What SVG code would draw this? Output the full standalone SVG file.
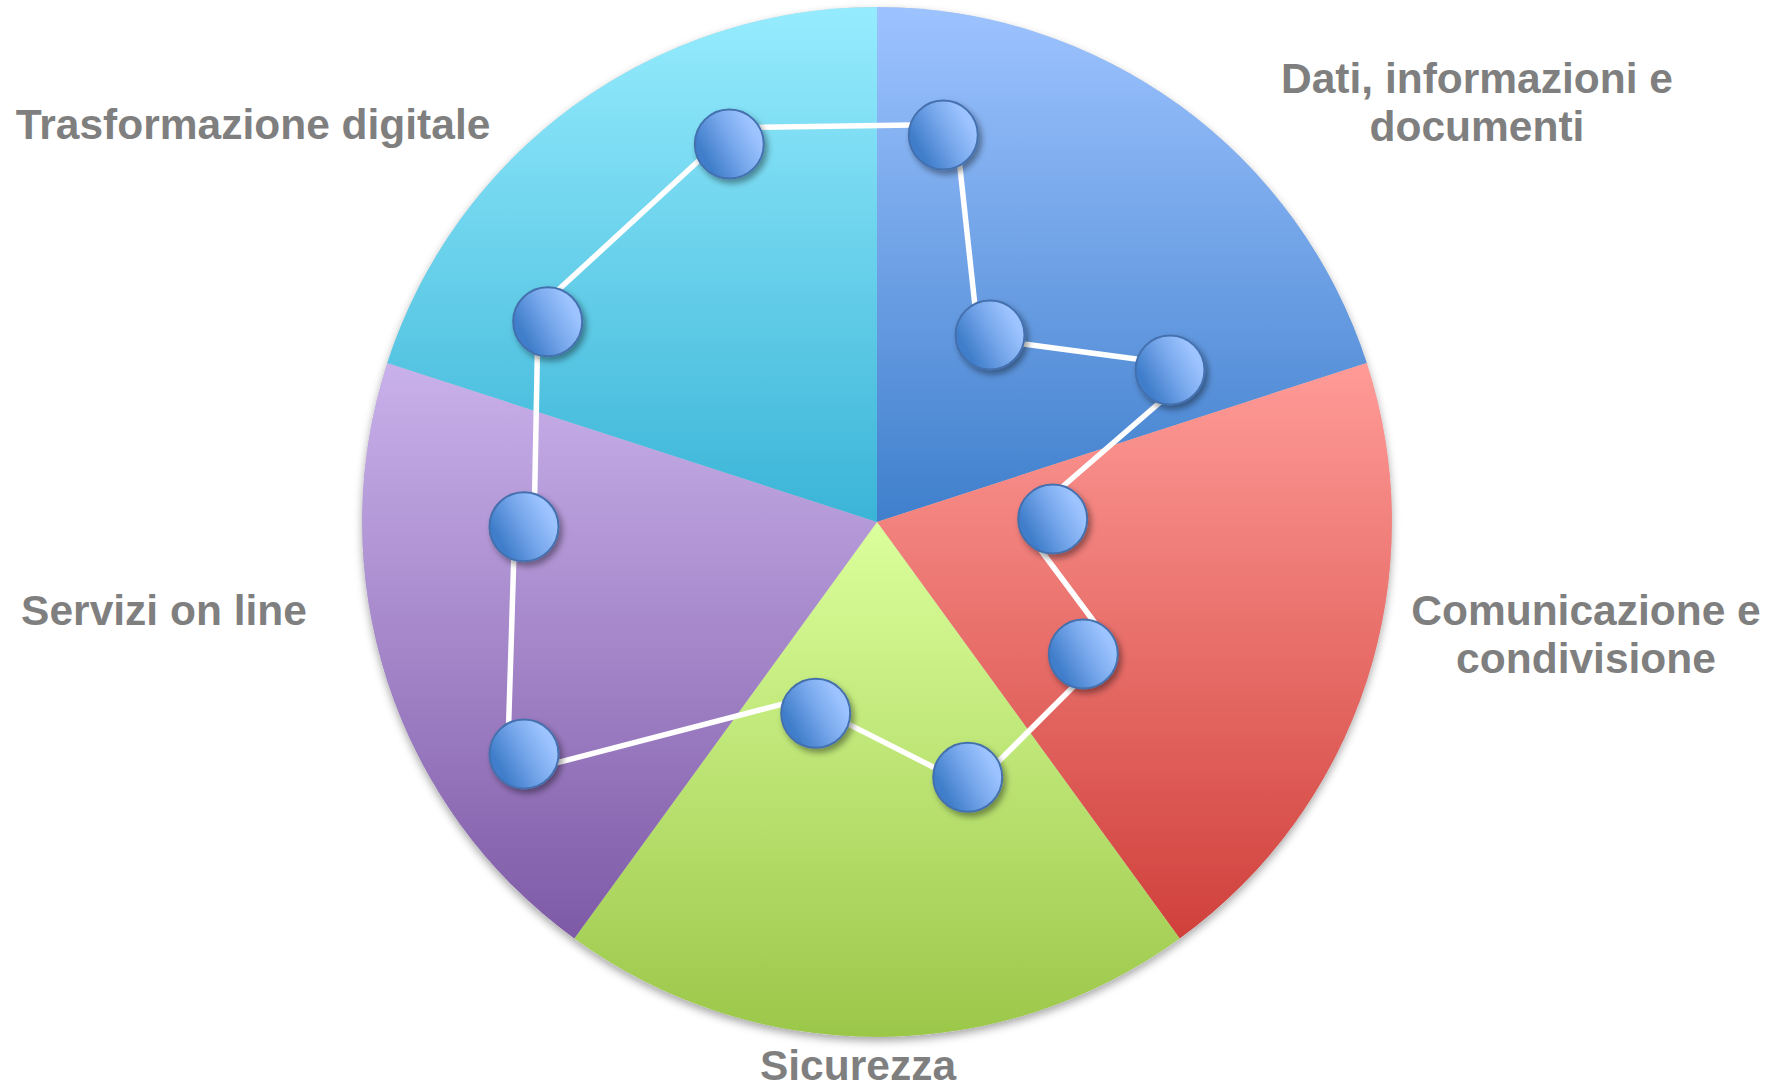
<svg xmlns="http://www.w3.org/2000/svg" width="1777" height="1090" viewBox="0 0 1777 1090">
<defs>
<linearGradient id="gBlue" x1="0" y1="0" x2="0" y2="1"><stop offset="0" stop-color="#9DC3FF"/><stop offset="1" stop-color="#3F7FCC"/></linearGradient>
<linearGradient id="gRed" x1="0" y1="0" x2="0" y2="1"><stop offset="0" stop-color="#FF9B97"/><stop offset="1" stop-color="#D0403B"/></linearGradient>
<linearGradient id="gGreen" x1="0" y1="0" x2="0" y2="1"><stop offset="0" stop-color="#DBFF9C"/><stop offset="1" stop-color="#9BC749"/></linearGradient>
<linearGradient id="gPurple" x1="0" y1="0" x2="0" y2="1"><stop offset="0" stop-color="#C9B1EB"/><stop offset="1" stop-color="#7E5AA6"/></linearGradient>
<linearGradient id="gCyan" x1="0" y1="0" x2="0" y2="1"><stop offset="0" stop-color="#96ECFE"/><stop offset="1" stop-color="#3AB4D7"/></linearGradient>
<linearGradient id="gNode" x1="0.1" y1="0.72" x2="0.9" y2="0.28"><stop offset="0.05" stop-color="#3F7DCA"/><stop offset="0.55" stop-color="#78A8EC"/><stop offset="0.95" stop-color="#9DC4FF"/></linearGradient>
<filter id="pieShadow" x="-10%" y="-10%" width="120%" height="120%">
<feGaussianBlur in="SourceAlpha" stdDeviation="4"/>
<feOffset dx="0" dy="4" result="b"/>
<feFlood flood-color="#000" flood-opacity="0.35"/>
<feComposite in2="b" operator="in"/>
<feMerge><feMergeNode/><feMergeNode in="SourceGraphic"/></feMerge>
</filter>
<filter id="nodeShadow" x="-40%" y="-40%" width="180%" height="180%">
<feGaussianBlur in="SourceAlpha" stdDeviation="3"/>
<feOffset dx="3" dy="4" result="b"/>
<feFlood flood-color="#000" flood-opacity="0.4"/>
<feComposite in2="b" operator="in"/>
<feMerge><feMergeNode/><feMergeNode in="SourceGraphic"/></feMerge>
</filter>
</defs>
<style>
.lbl{font-family:"Liberation Sans",Arial,sans-serif;font-weight:bold;font-size:42.5px;fill:#7F7F7F;text-anchor:middle}
.conn line{stroke:#FFFFFF;stroke-width:5.5;stroke-linecap:butt}
.node{fill:url(#gNode);stroke:#4470AE;stroke-width:2;filter:url(#nodeShadow)}
</style>
<rect width="1777" height="1090" fill="#FFFFFF"/>
<g id="pie">
<circle cx="877" cy="522" r="515" fill="#CCCCCC" filter="url(#pieShadow)"/>
<path id="sec-blue" d="M877,522 L877,7 A515,515 0 0 1 1366.8,362.9 Z" fill="url(#gBlue)"/>
<path id="sec-red" d="M877,522 L1366.8,362.9 A515,515 0 0 1 1179.7,938.6 Z" fill="url(#gRed)"/>
<path id="sec-green" d="M877,522 L1179.7,938.6 A515,515 0 0 1 574.3,938.6 Z" fill="url(#gGreen)"/>
<path id="sec-purple" d="M877,522 L574.3,938.6 A515,515 0 0 1 387.2,362.9 Z" fill="url(#gPurple)"/>
<path id="sec-cyan" d="M877,522 L387.2,362.9 A515,515 0 0 1 877,7 Z" fill="url(#gCyan)"/>
</g>
<g id="connectors" class="conn">
<line x1="758" y1="127.4" x2="913" y2="125"/>
<line x1="959.6" y1="164" x2="975" y2="306"/>
<line x1="1020" y1="343.6" x2="1140" y2="359.6"/>
<line x1="1161.5" y1="401" x2="1061" y2="488"/>
<line x1="1041" y1="550.5" x2="1095" y2="623"/>
<line x1="1075" y1="685" x2="997" y2="763"/>
<line x1="938.5" y1="769.7" x2="845.5" y2="722.6"/>
<line x1="785.5" y1="703.3" x2="554.5" y2="763.4"/>
<line x1="508.6" y1="726" x2="513.8" y2="558"/>
<line x1="534.6" y1="498" x2="537.4" y2="352"/>
<line x1="556.5" y1="291.6" x2="701" y2="158.6"/>
</g>
<g id="node-1"><circle class="node" cx="729.3" cy="144" r="34.5"/></g>
<g id="node-2"><circle class="node" cx="943.3" cy="135" r="34.5"/></g>
<g id="node-3"><circle class="node" cx="990" cy="335" r="34.5"/></g>
<g id="node-4"><circle class="node" cx="1170" cy="370" r="34.5"/></g>
<g id="node-5"><circle class="node" cx="1052.7" cy="519" r="34.5"/></g>
<g id="node-6"><circle class="node" cx="1083.3" cy="654" r="34.5"/></g>
<g id="node-7"><circle class="node" cx="967.7" cy="777.3" r="34.5"/></g>
<g id="node-8"><circle class="node" cx="815.7" cy="713.3" r="34.5"/></g>
<g id="node-9"><circle class="node" cx="524" cy="754" r="34.5"/></g>
<g id="node-10"><circle class="node" cx="524" cy="526.7" r="34.5"/></g>
<g id="node-11"><circle class="node" cx="547.7" cy="321.7" r="34.5"/></g>
<g id="label-dati"><text class="lbl" x="1477" y="93">Dati, informazioni e</text><text class="lbl" x="1477" y="141">documenti</text></g>
<g id="label-comunicazione"><text class="lbl" x="1586" y="625">Comunicazione e</text><text class="lbl" x="1586" y="673">condivisione</text></g>
<g id="label-sicurezza"><text class="lbl" x="858" y="1080">Sicurezza</text></g>
<g id="label-servizi"><text class="lbl" x="164" y="625">Servizi on line</text></g>
<g id="label-trasformazione"><text class="lbl" x="253" y="139">Trasformazione digitale</text></g>
</svg>
